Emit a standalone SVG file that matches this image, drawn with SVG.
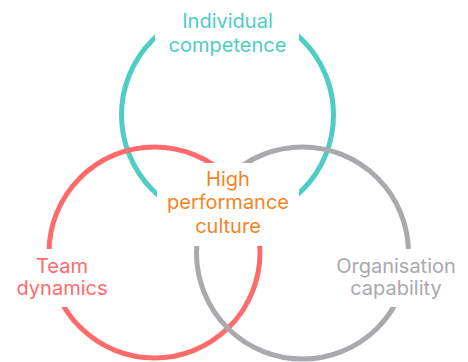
<svg xmlns="http://www.w3.org/2000/svg" width="468" height="362" viewBox="0 0 468 362">
  <style>
    .ring { fill: none; stroke-width: 5; }
    .lbl { font-family: Inter, "Noto Sans", "Liberation Sans", sans-serif; font-size: 20px; text-anchor: middle; }
  </style>
  <defs>
    <mask id="knock" maskUnits="userSpaceOnUse" x="0" y="0" width="468" height="362">
      <rect x="0" y="0" width="468" height="362" fill="#fff"/>
      <rect x="155" y="0" width="144" height="60" fill="#000"/>
      <rect x="157" y="163" width="142" height="83" fill="#000"/>
      <rect x="12" y="249" width="100" height="58" fill="#000"/>
      <rect x="330" y="249" width="132" height="58" fill="#000"/>
    </mask>
  </defs>
  <rect width="468" height="362" fill="#fff"/>
  <g id="individual-competence">
    <circle class="ring" cx="227.5" cy="115" r="106" stroke="#4ECDC4" mask="url(#knock)"/>
    <text class="lbl" fill="#4ECDC4"><tspan x="227.5" y="28">Individual</tspan><tspan x="227.5" y="51.5">competence</tspan></text>
  </g>
  <g id="team-dynamics">
    <circle class="ring" cx="154.5" cy="252.5" r="105.5" stroke="#FF6B6B" mask="url(#knock)"/>
    <text class="lbl" fill="#FF6B6B"><tspan x="62" y="272.5">Team</tspan><tspan x="62" y="295">dynamics</tspan></text>
  </g>
  <g id="organisation-capability">
    <circle class="ring" cx="302.5" cy="253" r="106" stroke="#A9A9AE" mask="url(#knock)"/>
    <text class="lbl" fill="#A9A9AE"><tspan x="396" y="272.5">Organisation</tspan><tspan x="396" y="295">capability</tspan></text>
  </g>
  <g id="high-performance-culture">
    <text class="lbl" fill="#F5841F"><tspan x="228" y="185.5">High</tspan><tspan x="228" y="209">performance</tspan><tspan x="228" y="232.5">culture</tspan></text>
  </g>
  <g id="connectors"/>
</svg>
